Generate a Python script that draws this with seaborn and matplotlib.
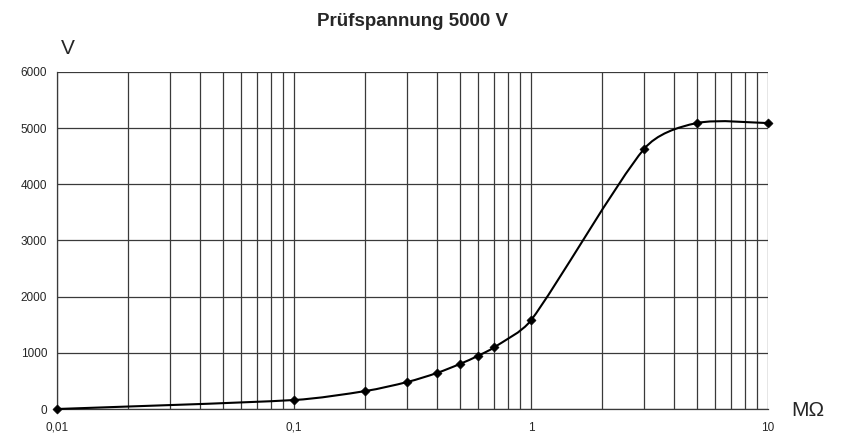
import numpy as np
import matplotlib
matplotlib.use("Agg")
import matplotlib.pyplot as plt
import seaborn as sns
from matplotlib.path import Path
from matplotlib.patches import PathPatch
from matplotlib.ticker import FixedLocator, LogLocator, NullFormatter

# Data
resistance = [0.01, 0.1, 0.2, 0.3, 0.4, 0.5, 0.6, 0.7, 1, 3, 5, 10]  # MOhm
voltage = [0, 160, 320, 480, 640, 800, 950, 1100, 1580, 4630, 5090, 5090]  # V
x_ticks = [0.01, 0.1, 1, 10]
x_ticklabels = ["0,01", "0,1", "1", "10"]
y_ticks = [0, 1000, 2000, 3000, 4000, 5000, 6000]

sns.set_style("white")
plt.rcParams['font.family'] = ['Liberation Sans', 'DejaVu Sans']

fig = plt.figure(figsize=(8.43, 4.38), dpi=100)
ax = fig.add_axes([0.0676, 0.0662, 0.8435, 0.7695])

ax.set_xscale("log")
ax.set_xlim(0.01, 10)
ax.set_ylim(0, 6000)

# smoothed line: catmull-rom style bezier, handles capped at 1/3 of the segment
# (worked out in screen-like units: px per decade / px per volt)
sx, sy = 237.0, 0.0562
pts = np.column_stack([np.log10(resistance) * sx, np.array(voltage, float) * sy])
n = len(pts)


def cap(h, seg_len):
    L = np.linalg.norm(h)
    lim = seg_len / 3
    return h * (lim / L) if L > lim else h


def to_data(p):
    return (10 ** (p[0] / sx), p[1] / sy)


verts = [to_data(pts[0])]
codes = [Path.MOVETO]
for i in range(n - 1):
    p0 = pts[i - 1] if i > 0 else pts[i]
    p1, p2 = pts[i], pts[i + 1]
    p3 = pts[i + 2] if i + 2 < n else p2
    seg = np.linalg.norm(p2 - p1)
    c1 = p1 + cap((p2 - p0) / 6, seg)
    c2 = p2 - cap((p3 - p1) / 6, seg)
    for c in (c1, c2, p2):
        verts.append(to_data(c))
        codes.append(Path.CURVE4)
ax.add_patch(PathPatch(Path(verts, codes), facecolor="none", edgecolor="black",
                       lw=1.5, transform=ax.transData, zorder=3, clip_on=False))

sns.scatterplot(x=resistance, y=voltage, ax=ax, marker="D", s=22, color="black",
                edgecolor="black", zorder=4, clip_on=False)

# grid
ax.xaxis.set_major_locator(FixedLocator(x_ticks))
ax.xaxis.set_minor_locator(LogLocator(base=10, subs=np.arange(2, 10)))
ax.xaxis.set_minor_formatter(NullFormatter())
ax.set_xticks(x_ticks)
ax.set_xticklabels(x_ticklabels)
ax.set_yticks(y_ticks)
ax.set_yticklabels([str(v) for v in y_ticks])
ax.grid(True, which="both", axis="x", color="#3a3a3a", lw=0.9)
ax.grid(True, which="major", axis="y", color="#3a3a3a", lw=0.9)

for s in ["top", "right"]:
    ax.spines[s].set_visible(False)
for s in ["left", "bottom"]:
    ax.spines[s].set_color("#3a3a3a")
    ax.spines[s].set_linewidth(0.9)

ax.tick_params(axis="x", which="major", direction="out", length=5, width=0.9,
               color="#3a3a3a", labelsize=8.5, pad=4)
ax.tick_params(axis="x", which="minor", length=0)
ax.tick_params(axis="y", which="major", direction="out", length=4, width=0.9,
               color="#3a3a3a", labelsize=8.5, pad=3)

ax.set_title("Prüfspannung 5000 V", fontsize=13.5, fontweight="bold", pad=33)
fig.text(0.08, 0.89, "V", fontsize=15, ha="center", va="center")
fig.text(0.958, 0.062, "MΩ", fontsize=15, ha="center", va="center")

fig.savefig("out.png", dpi=100)
